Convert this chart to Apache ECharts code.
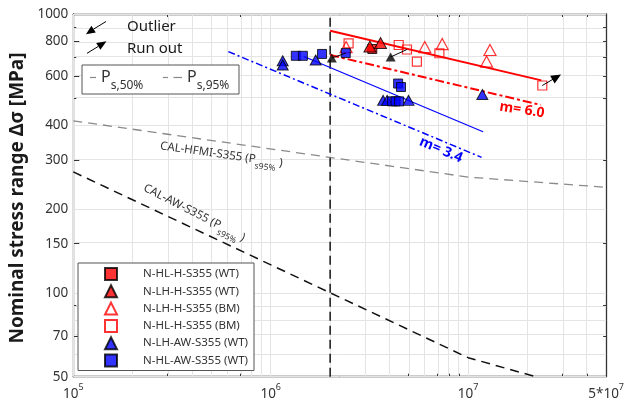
<!DOCTYPE html>
<html><head><meta charset="utf-8">
<script src="https://cdn.jsdelivr.net/npm/echarts@6/dist/echarts.min.js"></script>
<style>html,body{margin:0;padding:0;background:#fff}#c{width:627px;height:410px}</style>
</head><body><div id="c"></div>
<script>
const L = Math.log10;
const FONT = 'Noto Sans';

// ---- tick positions / labels ----
const xMajorTicks = [1e5, 1e6, 1e7, 5e7];
const xTickText = ['{b|10}{p|5}', '{b|10}{p|6}', '{b|10}{p|7}', '{b|5*10}{p|7}'];
const xMinorTicks = [2e5,3e5,4e5,5e5,6e5,7e5,8e5,9e5,2e6,3e6,4e6,5e6,6e6,7e6,8e6,9e6,2e7,3e7,4e7];
const yMajorTicks = [50, 70, 100, 150, 200, 300, 400, 600, 800, 1000];
const yMinorTicks = [60, 80, 90, 500, 700, 900];

// ---- data (N cycles, stress range MPa) ----
const hlH_WT = [[3.27e6, 749]];
const lhH_WT = [[3.18e6, 764], [3.60e6, 787]];
const lhH_BM = [[2.41e6, 761], [6.03e6, 761], [7.39e6, 780], [1.29e7, 743], [1.24e7, 675]];
const hlH_BM = [[2.48e6, 785], [4.45e6, 774], [4.90e6, 746], [5.50e6, 675], [7.15e6, 723], [2.375e7, 554]];
const lhAW_WT = [[1.15e6, 680], [1.15e6, 656], [1.69e6, 684], [3.71e6, 490], [3.89e6, 490], [4.99e6, 490], [1.18e7, 514]];
const hlAW_WT = [[1.34e6, 708], [1.455e6, 708], [1.82e6, 719], [2.40e6, 724], [4.42e6, 563], [4.57e6, 547], [4.12e6, 486], [4.29e6, 486], [4.47e6, 486]];
const outlierHeads = [[2.04e6, 695], [4.05e6, 701]];
const outlierArrows = [[[2.40e6, 724], [2.04e6, 695]], [[4.90e6, 746], [4.05e6, 701]]];
const runOutArrows = [[[2.375e7, 554], [2.81e7, 594]]];

// fitted / design curves
const redMean = [[2e6, 871], [2.35e7, 578]];
const red95 = [[2e6, 713], [2.33e7, 472]];
const blueMean = [[1.472e6, 704], [1.19e7, 378]];
const blue95 = [[6.1e5, 733], [1.17e7, 306]];
const hfmiCurve = [[1e5, 414], [1e7, 260], [5e7, 239]];
const awCurve = [[1e5, 271.4], [2e6, 100], [1e7, 58.5], [2.2e7, 50]];
const kneeLine = [[2e6, 50], [2e6, 1000]];

const names = ['N-HL-H-S355 (WT)', 'N-LH-H-S355 (WT)', 'N-LH-H-S355 (BM)', 'N-HL-H-S355 (BM)', 'N-LH-AW-S355 (WT)', 'N-HL-AW-S355 (WT)'];

const pts = a => a.map(p => [L(p[0]), L(p[1])]);
const xAll = xMajorTicks.concat(xMinorTicks).map(L);
const yAll = yMajorTicks.concat(yMinorTicks).map(L);
const xMin = L(1e5), xMax = L(5e7), yMin = L(50), yMax = L(1000);
const AX = '#333';

function xFmt(v) {
  const i = xMajorTicks.findIndex(t => Math.abs(L(t) - v) < 1e-6);
  return i >= 0 ? xTickText[i] : '';
}
function yFmt(v) { return String(Math.round(Math.pow(10, v))); }

const xRich = {
  b: {fontFamily: FONT, fontSize: 13.5, color: AX, lineHeight: 15, verticalAlign: 'bottom'},
  p: {fontFamily: FONT, fontSize: 9, color: AX, lineHeight: 10, padding: [0, 0, 9, 0], verticalAlign: 'bottom'}
};

function mkX(pos, tickVals, len, labels, line) {
  return {type: 'value', min: xMin, max: xMax, position: pos,
    axisLine: {show: line, onZero: false, lineStyle: {color: AX, width: 1.3}},
    axisTick: {show: true, inside: true, length: len, customValues: tickVals, lineStyle: {color: AX, width: 1}},
    axisLabel: labels ? {show: true, customValues: xMajorTicks.map(L), formatter: xFmt, rich: xRich, margin: 9, hideOverlap: false} : {show: false},
    splitLine: {show: false}};
}
function mkY(pos, tickVals, len, labels, line) {
  return {type: 'value', min: yMin, max: yMax, position: pos,
    axisLine: {show: line, onZero: false, lineStyle: {color: AX, width: 1.3}},
    axisTick: {show: true, inside: true, length: len, customValues: tickVals, lineStyle: {color: AX, width: 1}},
    axisLabel: labels ? {show: true, customValues: yMajorTicks.map(L), formatter: yFmt, margin: 5, color: AX, fontFamily: FONT, fontSize: 13.5, hideOverlap: false} : {show: false},
    splitLine: {show: false}};
}

const lineS = (data, color, width, type) => ({type: 'line', data: pts(data), symbol: 'none', silent: true, z: 3,
  lineStyle: {color, width, type}});

const filled = c => ({color: c, borderColor: '#000', borderWidth: 1});
const open = c => ({color: 'rgba(255,255,255,0)', borderColor: c, borderWidth: 1.2});

const sc = (name, data, symbol, size, style) => ({name, type: 'scatter', data: pts(data), symbol, symbolSize: size,
  itemStyle: style, z: 5, emphasis: {disabled: true}});

const gridMarks = xAll.map(v => ({xAxis: v})).concat(yAll.map(v => ({yAxis: v})));

const arrowData = outlierArrows.map(a => [{coord: [L(a[0][0]), L(a[0][1])], symbol: 'none'}, {coord: [L(a[1][0]), L(a[1][1])], symbol: 'none'}])
  .concat(runOutArrows.map(a => [{coord: [L(a[0][0]), L(a[0][1])], symbol: 'none'}, {coord: [L(a[1][0]), L(a[1][1])], symbol: 'triangle', symbolSize: [9, 10]}]));

const subRich = (fs, sfs, pad) => ({
  n: {fontFamily: FONT, fontSize: fs, lineHeight: fs + 1, verticalAlign: 'top', fill: '#333'},
  s: {fontFamily: FONT, fontSize: sfs, lineHeight: sfs, padding: [pad, 0, 0, 0], verticalAlign: 'top', fill: '#333'}
});

const chart = echarts.init(document.getElementById('c'), null, {renderer: 'canvas'});
chart.setOption({
  animation: false,
  backgroundColor: '#fff',
  grid: {left: 73.3, right: 16, top: 14, bottom: 33.3, containLabel: false},
  xAxis: [mkX('bottom', xAll, 3, true, true), mkX('top', xAll, 3, false, true), mkX('bottom', xMajorTicks.map(L), 6, false, false)],
  yAxis: [mkY('left', yAll, 3, true, true), mkY('right', yAll, 3, false, true), mkY('left', yMajorTicks.map(L), 6, false, false)],
  legend: {
    data: names, orient: 'vertical', left: 78, top: 263, itemGap: 3.3, itemWidth: 12, itemHeight: 12, z: 8,
    padding: [4, 6, 3, 26], borderColor: '#555', borderWidth: 1, backgroundColor: '#fff', borderRadius: 0,
    textStyle: {fontFamily: FONT, fontSize: 11.5, color: '#333', rich: {t: {fontFamily: FONT, fontSize: 11.5, color: '#333', lineHeight: 14, padding: [0, 0, 0, 21]}}},
    formatter: n => '{t|' + n + '}',
    selectedMode: false
  },
  series: [
    {type: 'line', data: [], silent: true, z: 1,
      markLine: {silent: true, z: 1, symbol: ['none', 'none'], label: {show: false}, animation: false,
        lineStyle: {color: '#e4e4e4', width: 1, type: 'solid'}, emphasis: {disabled: true}, data: gridMarks}},
    lineS(hfmiCurve, '#8a8a8a', 1.3, [9, 6]),
    lineS(awCurve, '#111', 1.5, [9, 6]),
    lineS(kneeLine, '#222', 1.6, [9, 5]),
    lineS(blue95, '#0000ff', 1.5, [7, 3, 2, 3]),
    lineS(blueMean, '#0000ff', 1.2, 'solid'),
    lineS(red95, '#ff0000', 2, [9, 3, 3, 3]),
    lineS(redMean, '#ff0000', 2, 'solid'),
    {type: 'line', data: [], silent: true, z: 6,
      markLine: {silent: true, z: 6, symbol: ['none', 'none'], label: {show: false}, animation: false,
        lineStyle: {color: '#000', width: 1, type: 'solid'}, emphasis: {disabled: true}, data: arrowData}},
    sc(names[0], hlH_WT, 'rect', 9, filled('#ff0000')),
    sc(names[1], lhH_WT, 'triangle', [12, 11], filled('#ff0000')),
    sc(names[2], lhH_BM, 'triangle', [12, 11], open('#ff0000')),
    sc(names[3], hlH_BM, 'rect', 9, open('#ff0000')),
    sc(names[4], lhAW_WT, 'triangle', [11, 10], filled('#0000ff')),
    sc(names[5], hlAW_WT, 'rect', 9, filled('#0000ff')),
    {type: 'scatter', data: pts(outlierHeads), symbol: 'triangle', symbolSize: [10, 9], itemStyle: {color: '#000'}, z: 7, silent: true}
  ],
  graphic: [
    {type: 'text', x: 18, y: 198, rotation: Math.PI / 2, z: 10,
      style: {text: 'Nominal stress range Δσ [MPa]', fontFamily: FONT, fontSize: 19, fontWeight: 'bold', fill: '#1a1a1a', align: 'center', verticalAlign: 'middle'}},
    // outlier / run out legend
    {type: 'line', shape: {x1: 106, y1: 21.5, x2: 93.6, y2: 29.1}, style: {stroke: '#000', lineWidth: 1}, z: 10},
    {type: 'polygon', shape: {points: [[86, 34.3], [95.8, 32.5], [91.4, 25.7]]}, style: {fill: '#000'}, z: 10},
    {type: 'line', shape: {x1: 87, y1: 53.3, x2: 98.3, y2: 46.4}, style: {stroke: '#000', lineWidth: 1}, z: 10},
    {type: 'polygon', shape: {points: [[106.5, 41.3], [100.4, 49.8], [96.2, 43.0]]}, style: {fill: '#000'}, z: 10},
    {type: 'text', x: 127, y: 27, z: 10, style: {text: 'Outlier', fontFamily: FONT, fontSize: 15, fill: '#1a1a1a', align: 'left', verticalAlign: 'middle'}},
    {type: 'text', x: 127, y: 49, z: 10, style: {text: 'Run out', fontFamily: FONT, fontSize: 15, fill: '#1a1a1a', align: 'left', verticalAlign: 'middle'}},
    // Ps box
    {type: 'rect', shape: {x: 82, y: 65, width: 157, height: 29}, style: {fill: '#fff', stroke: '#555', lineWidth: 1}, z: 10},
    {type: 'line', shape: {x1: 90, y1: 77.5, x2: 96, y2: 77.5}, style: {stroke: '#888', lineWidth: 1.2}, z: 11},
    {type: 'line', shape: {x1: 163, y1: 77.5, x2: 168, y2: 77.5}, style: {stroke: '#888', lineWidth: 1.2}, z: 11},
    {type: 'line', shape: {x1: 173.5, y1: 77.5, x2: 182, y2: 77.5}, style: {stroke: '#888', lineWidth: 1.2}, z: 11},
    {type: 'text', x: 101, y: 69, z: 11, style: {text: '{n|P}{s|s,50%}', rich: subRich(16, 12, 10.5), align: 'left', verticalAlign: 'top'}},
    {type: 'text', x: 187, y: 69, z: 11, style: {text: '{n|P}{s|s,95%}', rich: subRich(16, 12, 10.5), align: 'left', verticalAlign: 'top'}},
    // annotations
    {type: 'text', x: 161, y: 140, rotation: -8 * Math.PI / 180, z: 10,
      style: {text: '{n|CAL-HFMI-S355 (P}{s|s95%}{n| )}', rich: subRich(11.5, 8.5, 8), align: 'left', verticalAlign: 'top'}},
    {type: 'text', x: 147, y: 182, rotation: -27 * Math.PI / 180, z: 10,
      style: {text: '{n|CAL-AW-S355 (P}{s|s95%}{n| )}', rich: subRich(11.5, 8.5, 8), align: 'left', verticalAlign: 'top'}},
    {type: 'text', x: 522, y: 110, rotation: -9 * Math.PI / 180, z: 10,
      style: {text: 'm= 6.0', fontFamily: FONT, fontSize: 14, fontWeight: 'bold', fill: '#ff0000', align: 'center', verticalAlign: 'middle'}},
    {type: 'text', x: 441, y: 150, rotation: -23 * Math.PI / 180, z: 10,
      style: {text: 'm= 3.4', fontFamily: FONT, fontSize: 14, fontWeight: 'bold', fill: '#0000ff', align: 'center', verticalAlign: 'middle'}}
  ]
});
</script></body></html>
